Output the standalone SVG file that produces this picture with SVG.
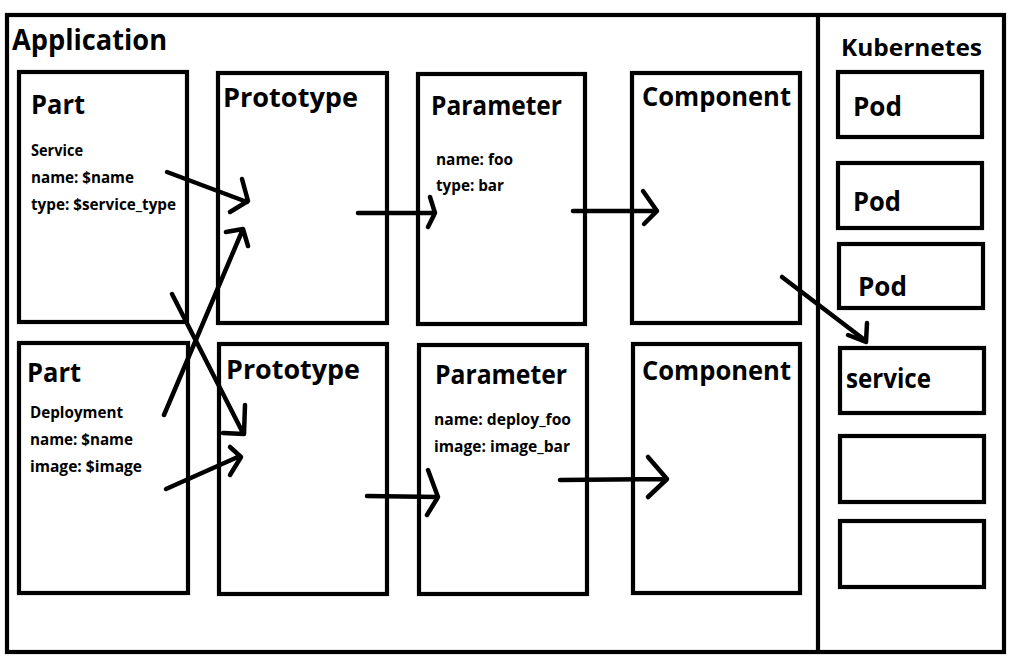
<svg xmlns="http://www.w3.org/2000/svg" width="1018" height="670" viewBox="0 0 1018 670">
<style>
.box{fill:none;stroke:#000;stroke-width:4.2}
.t{font-family:"Open Sans","Noto Sans","Liberation Sans",sans-serif;font-weight:bold;fill:#000}
.h{font-size:26px}
.s{font-size:16px}
.c{fill:none;stroke:#000;stroke-width:4.5;stroke-linecap:round;stroke-linejoin:round}
</style>
<rect x="0" y="0" width="1018" height="670" fill="#fff"/>
<g id="frame">
<rect class="box" x="7" y="15" width="997" height="637"/>
<line class="box" x1="818" y1="15" x2="818" y2="652"/>
</g>
<g id="application-label"><text class="t" x="12" y="50" font-size="28" textLength="155" lengthAdjust="spacingAndGlyphs">Application</text></g>
<g id="part1">
<rect class="box" x="19" y="72" width="168" height="250"/>
<text class="t h" x="31" y="114" textLength="54" lengthAdjust="spacingAndGlyphs">Part</text>
<text class="t s" x="31" y="156" textLength="52" lengthAdjust="spacingAndGlyphs">Service</text>
<text class="t s" x="31" y="183" textLength="103" lengthAdjust="spacingAndGlyphs">name: $name</text>
<text class="t s" x="31" y="210" textLength="145" lengthAdjust="spacingAndGlyphs">type: $service_type</text>
</g>
<g id="prototype1">
<rect class="box" x="218" y="73" width="169" height="250"/>
<text class="t h" x="223" y="107" textLength="135" lengthAdjust="spacingAndGlyphs">Prototype</text>
</g>
<g id="parameter1">
<rect class="box" x="418" y="74" width="167" height="250"/>
<text class="t h" x="431" y="115" textLength="131" lengthAdjust="spacingAndGlyphs">Parameter</text>
<text class="t s" x="436" y="165" textLength="77" lengthAdjust="spacingAndGlyphs">name: foo</text>
<text class="t s" x="436" y="191" textLength="68" lengthAdjust="spacingAndGlyphs">type: bar</text>
</g>
<g id="component1">
<rect class="box" x="632" y="73" width="168" height="250"/>
<text class="t h" x="642" y="106" textLength="149" lengthAdjust="spacingAndGlyphs">Component</text>
</g>
<g id="part2">
<rect class="box" x="19" y="343" width="169" height="250"/>
<text class="t h" x="27" y="382" textLength="54" lengthAdjust="spacingAndGlyphs">Part</text>
<text class="t s" x="30" y="418" textLength="93" lengthAdjust="spacingAndGlyphs">Deployment</text>
<text class="t s" x="30" y="445" textLength="103" lengthAdjust="spacingAndGlyphs">name: $name</text>
<text class="t s" x="30" y="472" textLength="112" lengthAdjust="spacingAndGlyphs">image: $image</text>
</g>
<g id="prototype2">
<rect class="box" x="219" y="344" width="168" height="250"/>
<text class="t h" x="226" y="379" textLength="134" lengthAdjust="spacingAndGlyphs">Prototype</text>
</g>
<g id="parameter2">
<rect class="box" x="419" y="345" width="168" height="249"/>
<text class="t h" x="435" y="384" textLength="132" lengthAdjust="spacingAndGlyphs">Parameter</text>
<text class="t s" x="434" y="425" textLength="137" lengthAdjust="spacingAndGlyphs">name: deploy_foo</text>
<text class="t s" x="434" y="452" textLength="136" lengthAdjust="spacingAndGlyphs">image: image_bar</text>
</g>
<g id="component2">
<rect class="box" x="633" y="344" width="167" height="249"/>
<text class="t h" x="642" y="380" textLength="149" lengthAdjust="spacingAndGlyphs">Component</text>
</g>
<g id="kubernetes-label"><text class="t" x="841" y="56" font-size="24" textLength="141" lengthAdjust="spacingAndGlyphs">Kubernetes</text></g>
<g id="pod1">
<rect class="box" x="838" y="72" width="144" height="65"/>
<text class="t h" x="853" y="116" textLength="49" lengthAdjust="spacingAndGlyphs">Pod</text>
</g>
<g id="pod2">
<rect class="box" x="838" y="163" width="144" height="65"/>
<text class="t h" x="853" y="211" textLength="48" lengthAdjust="spacingAndGlyphs">Pod</text>
</g>
<g id="pod3">
<rect class="box" x="839" y="244" width="144" height="64"/>
<text class="t h" x="858" y="296" textLength="49" lengthAdjust="spacingAndGlyphs">Pod</text>
</g>
<g id="service">
<rect class="box" x="840" y="348" width="144" height="65"/>
<text class="t h" x="846" y="388" textLength="85" lengthAdjust="spacingAndGlyphs">service</text>
</g>
<g id="k8s-box5"><rect class="box" x="840" y="436" width="144" height="66"/></g>
<g id="k8s-box6"><rect class="box" x="840" y="521" width="144" height="66"/></g>
<g id="connectors">
<path class="c" d="M167,172 L247,202 M242,179 L248,201 L230,212"/>
<path class="c" d="M164,415 L243,229 M226,232 L243,229 L248,246"/>
<path class="c" d="M172,294 L243,433 M245,405 L244,434 L223,433"/>
<path class="c" d="M166,489 L240,456 M230,447 L241,457 L230,475"/>
<path class="c" d="M358,213 L435,213 M430,197 L435,213 L428,227"/>
<path class="c" d="M573,211 L657,211 M643,191 L657,211 L644,224"/>
<path class="c" d="M367,496 L438,497 M428,470 L438,497 L427,515"/>
<path class="c" d="M560,480 L667,479 M648,457 L667,479 L648,497"/>
<path class="c" stroke-width="3.8" d="M782,277 L866,341 M848,335 L866,342 L867,323"/>
</g>
</svg>
